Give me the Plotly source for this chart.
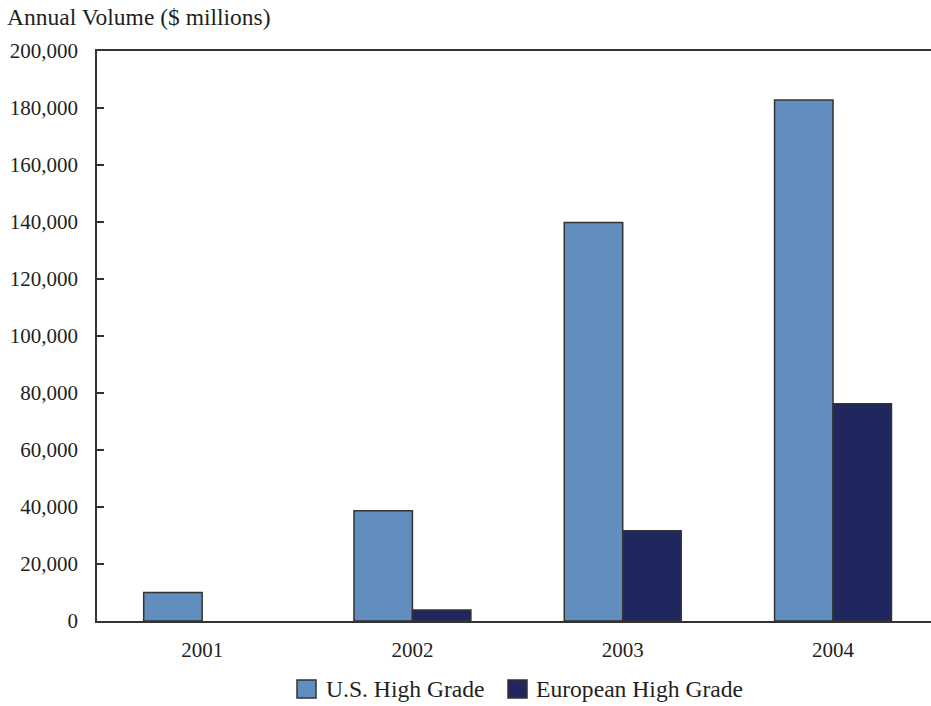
import plotly.graph_objects as go

# Annual trading volume, $ millions
years = ["2001", "2002", "2003", "2004"]
us_high_grade = [10000, 38700, 139800, 182800]
european_high_grade = [None, 3900, 31700, 76200]
series_names = ["U.S. High Grade", "European High Grade"]
series_colors = ["#628DBF", "#20265E"]

y_ticks = list(range(0, 200001, 20000))

FONT = "Liberation Serif"
TEXT = "#231F20"
EDGE = "#333333"

W, H = 931, 706
L, R, T, B = 97, 0, 51, 85

fig = go.Figure()
for name, vals, col in zip(series_names, [us_high_grade, european_high_grade], series_colors):
    fig.add_trace(go.Bar(
        x=years, y=vals, name=name,
        marker=dict(color=col, line=dict(color=EDGE, width=1.5)),
        showlegend=False,
    ))

plot_w = W - L - R
plot_h = H - T - B


def px_x(p):
    return (p - L) / plot_w


def px_y(p):
    return (H - B - p) / plot_h


# hand-drawn legend with large square swatches
shapes = []
annotations = []
legend_items = [(297, 324), (508, 534)]
for (sx, tx), name, col in zip(legend_items, series_names, series_colors):
    shapes.append(dict(
        type="rect", xref="paper", yref="paper",
        x0=px_x(sx), x1=px_x(sx + 19), y0=px_y(698), y1=px_y(680),
        fillcolor=col, line=dict(color=EDGE, width=1.5),
    ))
    annotations.append(dict(
        xref="paper", yref="paper", x=px_x(tx), y=px_y(689),
        xanchor="left", yanchor="middle", showarrow=False,
        text=name, font=dict(family=FONT, size=23.6, color=TEXT),
    ))

annotations.append(dict(
    xref="paper", yref="paper", x=px_x(5), y=px_y(17),
    xanchor="left", yanchor="middle", showarrow=False,
    text="Annual Volume ($ millions)",
    font=dict(family=FONT, size=23.5, color=TEXT),
))

fig.update_layout(
    width=W, height=H,
    margin=dict(l=L, r=R, t=T, b=B, pad=0),
    paper_bgcolor="white", plot_bgcolor="white",
    barmode="group", bargap=0.444, bargroupgap=0,
    shapes=shapes, annotations=annotations,
    font=dict(family=FONT, size=21, color=TEXT),
    xaxis=dict(
        type="category", range=[-0.5, 3.466],
        showline=True, linecolor=EDGE, linewidth=1.5, mirror=True,
        showgrid=False, ticks="", ticklabelstandoff=9,
        tickfont=dict(family=FONT, size=21, color=TEXT),
    ),
    yaxis=dict(
        range=[0, 200000], tickvals=y_ticks, tickformat=",",
        showline=True, linecolor=EDGE, linewidth=1.5,
        showgrid=False, zeroline=False,
        ticks="inside", ticklen=7, tickcolor=EDGE, tickwidth=1.5,
        ticklabelstandoff=13,
        tickfont=dict(family=FONT, size=21, color=TEXT),
    ),
)

fig.write_html("out.html")
